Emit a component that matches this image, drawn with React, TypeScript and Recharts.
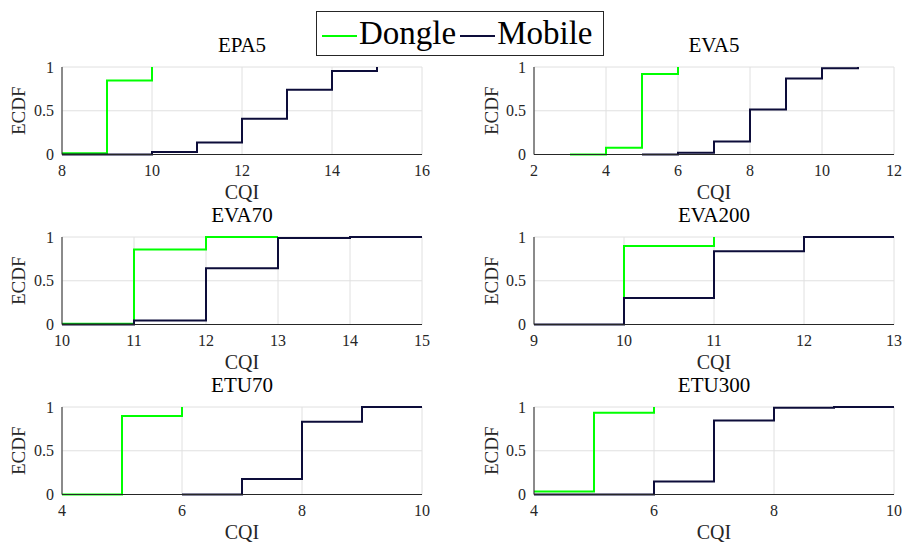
import React from 'react';
import { LineChart, Line, XAxis, YAxis, CartesianGrid } from 'recharts';

type Pt = { cqi: number; ecdf: number };

// ECDF steps (cqi, cumulative fraction)
const epa5Dongle: Pt[] = [
  { cqi: 8, ecdf: 0.015 }, { cqi: 9, ecdf: 0.846 }, { cqi: 10, ecdf: 1 },
];
const epa5Mobile: Pt[] = [
  { cqi: 8, ecdf: 0 }, { cqi: 10, ecdf: 0.03 }, { cqi: 11, ecdf: 0.138 }, { cqi: 12, ecdf: 0.41 },
  { cqi: 13, ecdf: 0.74 }, { cqi: 14, ecdf: 0.954 }, { cqi: 15, ecdf: 1 },
];
const eva5Dongle: Pt[] = [
  { cqi: 3, ecdf: 0 }, { cqi: 4, ecdf: 0.076 }, { cqi: 5, ecdf: 0.92 }, { cqi: 6, ecdf: 1 },
];
const eva5Mobile: Pt[] = [
  { cqi: 5, ecdf: 0 }, { cqi: 6, ecdf: 0.02 }, { cqi: 7, ecdf: 0.15 }, { cqi: 8, ecdf: 0.515 },
  { cqi: 9, ecdf: 0.87 }, { cqi: 10, ecdf: 0.985 }, { cqi: 11, ecdf: 1 },
];
const eva70Dongle: Pt[] = [
  { cqi: 10, ecdf: 0.008 }, { cqi: 11, ecdf: 0.856 }, { cqi: 12, ecdf: 1 }, { cqi: 13, ecdf: 1 },
];
const eva70Mobile: Pt[] = [
  { cqi: 10, ecdf: 0 }, { cqi: 11, ecdf: 0.045 }, { cqi: 12, ecdf: 0.644 }, { cqi: 13, ecdf: 0.99 },
  { cqi: 14, ecdf: 1 }, { cqi: 15, ecdf: 1 },
];
const eva200Dongle: Pt[] = [
  { cqi: 10, ecdf: 0 }, { cqi: 10, ecdf: 0.898 }, { cqi: 11, ecdf: 1 },
];
const eva200Mobile: Pt[] = [
  { cqi: 9, ecdf: 0 }, { cqi: 10, ecdf: 0.303 }, { cqi: 11, ecdf: 0.837 }, { cqi: 12, ecdf: 1 }, { cqi: 13, ecdf: 1 },
];
const etu70Dongle: Pt[] = [
  { cqi: 4, ecdf: 0 }, { cqi: 5, ecdf: 0.897 }, { cqi: 6, ecdf: 1 },
];
const etu70Mobile: Pt[] = [
  { cqi: 6, ecdf: 0 }, { cqi: 7, ecdf: 0.176 }, { cqi: 8, ecdf: 0.832 }, { cqi: 9, ecdf: 1 }, { cqi: 10, ecdf: 1 },
];
const etu300Dongle: Pt[] = [
  { cqi: 4, ecdf: 0.034 }, { cqi: 5, ecdf: 0.935 }, { cqi: 6, ecdf: 1 },
];
const etu300Mobile: Pt[] = [
  { cqi: 4, ecdf: 0 }, { cqi: 6, ecdf: 0.149 }, { cqi: 7, ecdf: 0.847 }, { cqi: 8, ecdf: 0.992 },
  { cqi: 9, ecdf: 1 }, { cqi: 10, ecdf: 1 },
];

const epa5Ticks = [8, 10, 12, 14, 16];
const eva5Ticks = [2, 4, 6, 8, 10, 12];
const eva70Ticks = [10, 11, 12, 13, 14, 15];
const eva200Ticks = [9, 10, 11, 12, 13];
const etuTicks = [4, 6, 8, 10];
const yTicks = [0, 0.5, 1];

const GREEN = '#00ff00';
const NAVY = '#0d0d3a';
const AXIS = '#262626';
const FONT = '"Liberation Serif", "DejaVu Serif", serif';

const rowTops = [66.5, 236.5, 407];
const PLOT_H = 87.5;
const TOP_PAD = 10;
const XAXIS_H = 46;
const BOTTOM_PAD = 8;

interface PanelProps {
  title: string;
  dongle: Pt[];
  mobile: Pt[];
  ticks: number[];
  col: number;
  row: number;
}

const Panel: React.FC<PanelProps> = ({ title, dongle, mobile, ticks, col, row }) => {
  const left = col === 0 ? 0 : 451;
  const width = col === 0 ? 440 : 451;
  const yw = col === 0 ? 62 : 83;
  const right = col === 0 ? 18 : 8;
  const top = rowTops[row] - TOP_PAD;
  const plotLeft = left + yw;
  const plotRight = left + width - right;
  const tick = { fill: AXIS, fontSize: 16, fontFamily: FONT, style: { fontFamily: FONT } };
  return (
    <>
      <div
        style={{
          position: 'absolute',
          left: plotLeft,
          width: plotRight - plotLeft,
          top: rowTops[row] - 21.5 - 10.5,
          height: 21,
          lineHeight: '21px',
          fontSize: 21,
          color: '#000',
          textAlign: 'center',
        }}
      >
        {title}
      </div>
      <div style={{ position: 'absolute', left, top }}>
        <LineChart
          width={width}
          height={TOP_PAD + PLOT_H + XAXIS_H + BOTTOM_PAD}
          margin={{ top: TOP_PAD, right, bottom: BOTTOM_PAD, left: 0 }}
          style={{ fontFamily: FONT }}
        >
          <CartesianGrid stroke="#e0e0e0" strokeWidth={1} />
          <XAxis
            type="number"
            dataKey="cqi"
            domain={[ticks[0], ticks[ticks.length - 1]]}
            ticks={ticks}
            interval={0}
            allowDataOverflow
            height={XAXIS_H}
            tickLine={false}
            tickMargin={4}
            axisLine={{ stroke: AXIS }}
            tick={tick}
            label={{
              value: 'CQI',
              position: 'insideBottom',
              offset: 2,
              fill: AXIS,
              fontSize: 20,
              style: { fontFamily: FONT },
            }}
          />
          <YAxis
            type="number"
            domain={[0, 1]}
            ticks={yTicks}
            interval={0}
            width={yw}
            tickLine={false}
            tickMargin={2}
            axisLine={{ stroke: AXIS }}
            tick={tick}
            label={{
              value: 'ECDF',
              angle: -90,
              position: 'insideLeft',
              offset: col === 0 ? 18 : 40,
              fill: AXIS,
              fontSize: 19,
              style: { textAnchor: 'middle', fontFamily: FONT },
            }}
          />
          <Line
            data={dongle}
            dataKey="ecdf"
            type="stepAfter"
            stroke={GREEN}
            strokeWidth={2}
            dot={false}
            activeDot={false}
            isAnimationActive={false}
          />
          <Line
            data={mobile}
            dataKey="ecdf"
            type="stepAfter"
            stroke={NAVY}
            strokeWidth={2}
            dot={false}
            activeDot={false}
            isAnimationActive={false}
          />
        </LineChart>
      </div>
    </>
  );
};

const LegendBox: React.FC = () => (
  <div
    style={{
      position: 'absolute',
      left: 316,
      top: 11,
      width: 288,
      height: 45,
      boxSizing: 'border-box',
      border: `1px solid ${AXIS}`,
      background: '#fff',
      display: 'flex',
      alignItems: 'center',
      paddingLeft: 5,
      fontSize: 33,
      color: '#000',
      whiteSpace: 'nowrap',
    }}
  >
    <svg width={35} height={4} style={{ marginRight: 2, marginTop: 4 }}>
      <line x1={0} y1={2} x2={35} y2={2} stroke={GREEN} strokeWidth={2} />
    </svg>
    <span style={{ lineHeight: '33px' }}>Dongle</span>
    <svg width={35} height={4} style={{ marginLeft: 4, marginRight: 2, marginTop: 4 }}>
      <line x1={0} y1={2} x2={35} y2={2} stroke={NAVY} strokeWidth={2} />
    </svg>
    <span style={{ lineHeight: '33px' }}>Mobile</span>
  </div>
);

export default function App() {
  return (
    <div
      style={{
        position: 'absolute',
        left: 0,
        top: 0,
        width: 902,
        height: 542,
        background: '#fff',
        fontFamily: FONT,
      }}
    >
      <Panel title="EPA5" dongle={epa5Dongle} mobile={epa5Mobile} ticks={epa5Ticks} col={0} row={0} />
      <Panel title="EVA5" dongle={eva5Dongle} mobile={eva5Mobile} ticks={eva5Ticks} col={1} row={0} />
      <Panel title="EVA70" dongle={eva70Dongle} mobile={eva70Mobile} ticks={eva70Ticks} col={0} row={1} />
      <Panel title="EVA200" dongle={eva200Dongle} mobile={eva200Mobile} ticks={eva200Ticks} col={1} row={1} />
      <Panel title="ETU70" dongle={etu70Dongle} mobile={etu70Mobile} ticks={etuTicks} col={0} row={2} />
      <Panel title="ETU300" dongle={etu300Dongle} mobile={etu300Mobile} ticks={etuTicks} col={1} row={2} />
      <LegendBox />
    </div>
  );
}
